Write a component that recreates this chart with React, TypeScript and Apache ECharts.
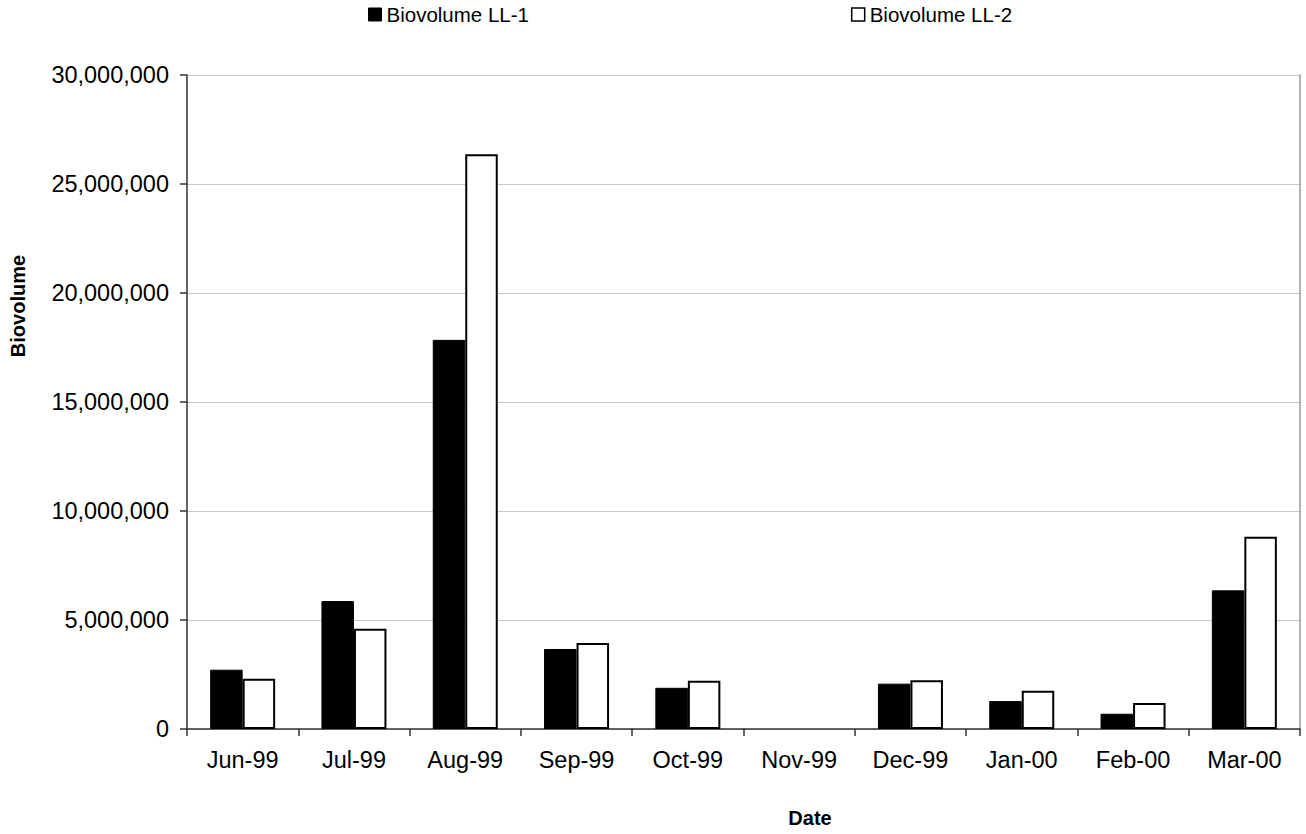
import React, { useEffect, useRef } from "react";
import * as echarts from "echarts";

const categories = ["Jun-99", "Jul-99", "Aug-99", "Sep-99", "Oct-99", "Nov-99", "Dec-99", "Jan-00", "Feb-00", "Mar-00"];
const ll1Values = [2720000, 5870000, 17850000, 3670000, 1890000, null, 2080000, 1280000, 700000, 6360000];
const ll2Values = [2310000, 4600000, 26370000, 3940000, 2210000, null, 2240000, 1760000, 1190000, 8820000];
const seriesNames = ["Biovolume LL-1", "Biovolume LL-2"];
const yTitle = "Biovolume";
const xTitle = "Date";

const FONT = "'Liberation Sans', Arial, sans-serif";

export default function App() {
  const ref = useRef<HTMLDivElement>(null);
  useEffect(() => {
    const chart = echarts.init(ref.current!, null, { renderer: "svg" });
    chart.setOption({
      animation: false,
      backgroundColor: "#ffffff",
      textStyle: { fontFamily: FONT },
      legend: {
        left: 368,
        top: 4,
        padding: 0,
        itemWidth: 13,
        itemHeight: 13,
        itemGap: 322,
        icon: "rect",
        textStyle: { fontFamily: FONT, fontSize: 20.5, color: "#000" },
        data: [
          { name: seriesNames[0], itemStyle: { color: "#000", borderColor: "#000", borderWidth: 1 } },
          { name: seriesNames[1], itemStyle: { color: "#fff", borderColor: "#000", borderWidth: 1.5 } },
        ],
      },
      grid: { left: 187, right: 6, top: 75, bottom: 105, containLabel: false },
      xAxis: {
        type: "category",
        data: categories,
        boundaryGap: true,
        axisLine: { lineStyle: { color: "#333", width: 1.5 } },
        axisTick: { show: true, alignWithLabel: false, length: 7, lineStyle: { color: "#333", width: 1.5 } },
        axisLabel: { fontFamily: FONT, fontSize: 23.5, color: "#000", margin: 19, interval: 0 },
      },
      yAxis: [
        {
          type: "value",
          min: 0,
          max: 30000000,
          interval: 5000000,
          axisLine: { show: true, lineStyle: { color: "#333", width: 1.5 } },
          axisTick: { show: true, length: 7, lineStyle: { color: "#333", width: 1.5 } },
          axisLabel: {
            fontFamily: FONT,
            fontSize: 23.5,
            color: "#000",
            margin: 18,
            formatter: (v: number) => v.toLocaleString("en-US"),
          },
          splitLine: { show: true, lineStyle: { color: "#c8c8c8", width: 1 } },
        },
        {
          type: "value",
          position: "right",
          min: 0,
          max: 30000000,
          interval: 5000000,
          axisLine: { show: true, lineStyle: { color: "#9a9a9a", width: 1.5 } },
          axisTick: { show: false },
          axisLabel: { show: false },
          splitLine: { show: false },
        },
      ],
      series: [
        {
          name: seriesNames[0],
          type: "bar",
          data: ll1Values,
          barWidth: 32.5,
          barGap: "0%",
          itemStyle: { color: "#000", borderColor: "#000", borderWidth: 1 },
        },
        {
          name: seriesNames[1],
          type: "bar",
          data: ll2Values,
          barWidth: 32.5,
          barGap: "0%",
          itemStyle: { color: "#fff", borderColor: "#000", borderWidth: 2 },
        },
      ],
      graphic: [
        {
          type: "text",
          x: 810,
          y: 818,
          style: { text: xTitle, font: `bold 20px ${FONT}`, fill: "#000", align: "center", verticalAlign: "middle" },
        },
        {
          type: "text",
          x: 18,
          y: 306,
          rotation: Math.PI / 2,
          style: { text: yTitle, font: `bold 20px ${FONT}`, fill: "#000", align: "center", verticalAlign: "middle" },
        },
      ],
    });
    return () => chart.dispose();
  }, []);
  return <div ref={ref} style={{ width: 1306, height: 834, position: "absolute", left: 0, top: 0 }} />;
}
